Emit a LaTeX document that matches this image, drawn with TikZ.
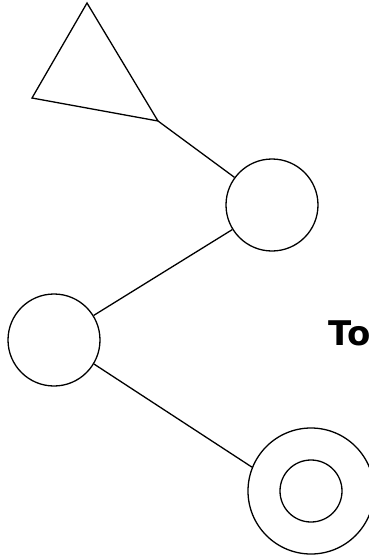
\documentclass[tikz,border=0pt]{standalone}
\usepackage{fontspec}
\setsansfont{DejaVu Sans}
\tikzset{
  statenode/.style={circle, draw, inner sep=0pt, minimum size=#1},
  edgeline/.style={line width=1.3pt},
}
\begin{document}
\begin{tikzpicture}[x=1pt,y=-1pt, line width=1.3pt]
\useasboundingbox (0,0) rectangle (369,558);
\node[statenode=92pt] (s1) at (272,205) {};
\node[statenode=92pt] (s2) at (54,340) {};
\node[statenode=126pt] (acc) at (311,491) {};
\node[statenode=62pt] (acci) at (311,491) {};
\coordinate (ta) at (87,3);
\coordinate (tb) at (32,98);
\coordinate (tc) at (158,121);
\draw[line join=miter] (ta) -- (tb) -- (tc) -- cycle;
\draw[edgeline] (tc) -- (s1);
\draw[edgeline] (s1) -- (s2);
\draw[edgeline] (s2.-31) -- (acc.158);
\node[anchor=base west, inner sep=0pt, font=\sffamily\bfseries\fontsize{34}{34}\selectfont] (lbl) at (328,345) {To};
\end{tikzpicture}
\end{document}
